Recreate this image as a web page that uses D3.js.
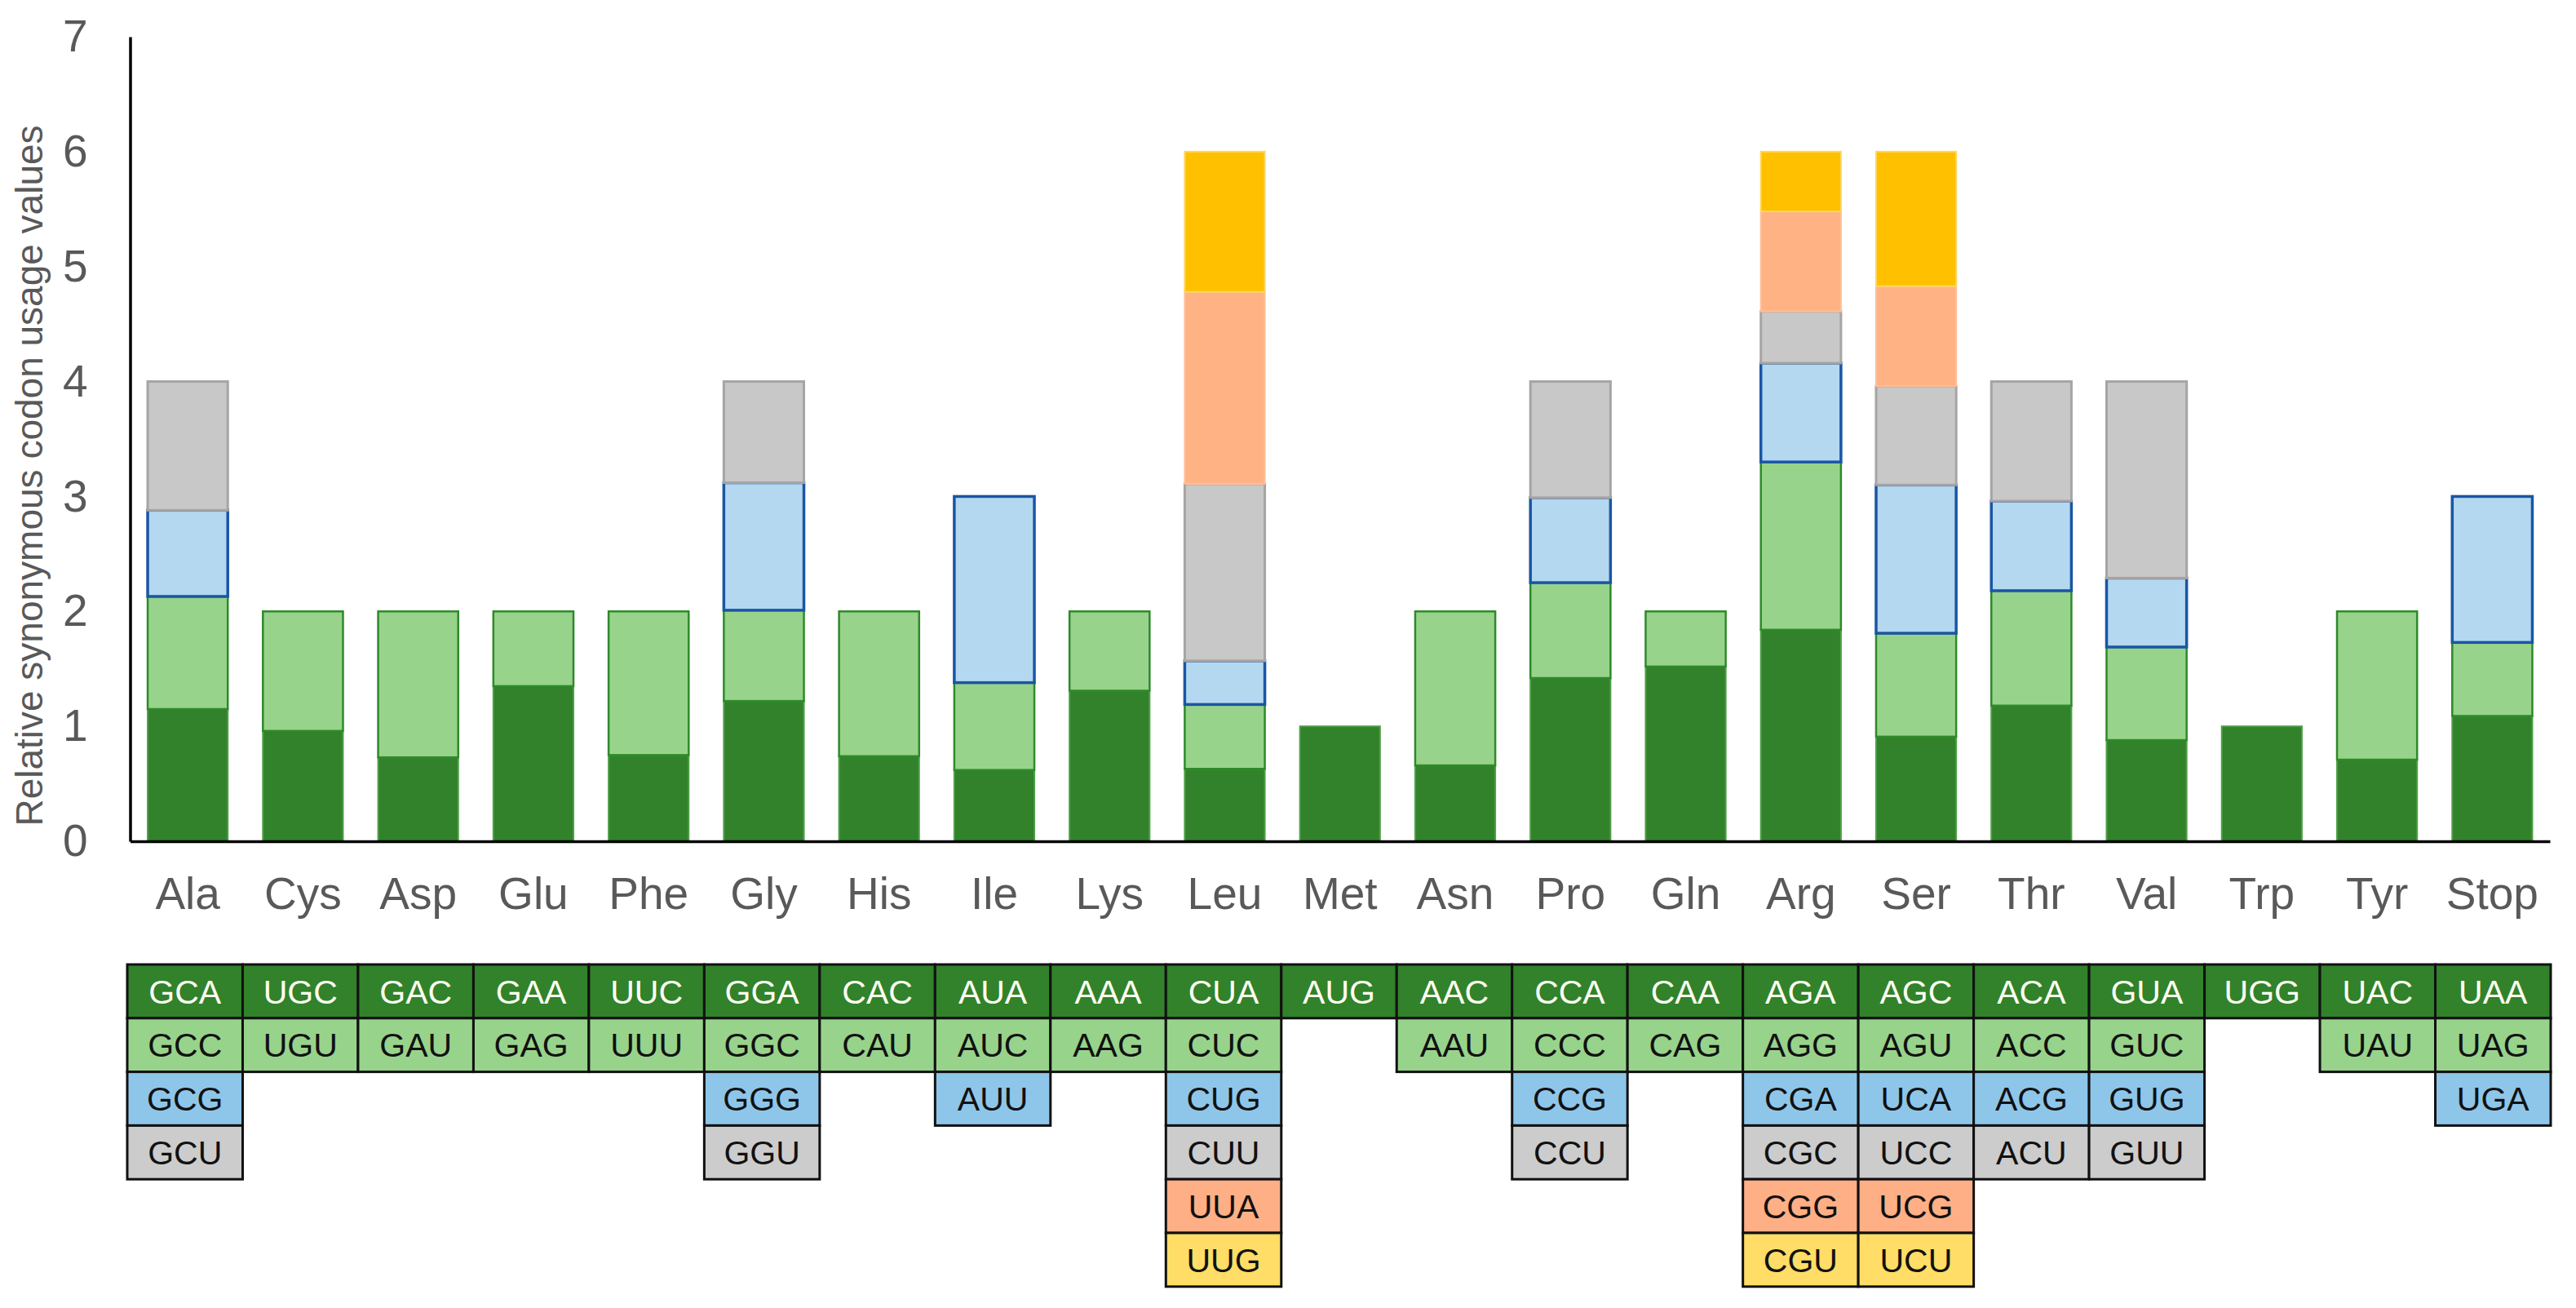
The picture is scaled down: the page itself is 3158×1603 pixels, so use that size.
<!DOCTYPE html>
<html>
<head>
<meta charset="utf-8">
<script src="https://cdn.jsdelivr.net/npm/d3@7/dist/d3.min.js"></script>
<style>
  html, body { margin: 0; padding: 0; background: #ffffff; }
  svg { display: block; font-family: "Liberation Sans", Arial, sans-serif; }
</style>
</head>
<body>
<svg id="chart" width="3158" height="1603"></svg>
<script>
// ---- data ----
const aminoAcids = ["Ala","Cys","Asp","Glu","Phe","Gly","His","Ile","Lys","Leu","Met","Asn","Pro","Gln","Arg","Ser","Thr","Val","Trp","Tyr","Stop"];

const codons = [
  ["GCA","GCC","GCG","GCU"],
  ["UGC","UGU"],
  ["GAC","GAU"],
  ["GAA","GAG"],
  ["UUC","UUU"],
  ["GGA","GGC","GGG","GGU"],
  ["CAC","CAU"],
  ["AUA","AUC","AUU"],
  ["AAA","AAG"],
  ["CUA","CUC","CUG","CUU","UUA","UUG"],
  ["AUG"],
  ["AAC","AAU"],
  ["CCA","CCC","CCG","CCU"],
  ["CAA","CAG"],
  ["AGA","AGG","CGA","CGC","CGG","CGU"],
  ["AGC","AGU","UCA","UCC","UCG","UCU"],
  ["ACA","ACC","ACG","ACU"],
  ["GUA","GUC","GUG","GUU"],
  ["UGG"],
  ["UAC","UAU"],
  ["UAA","UAG","UGA"]
];

const rscu = [
  [1.15, 0.98, 0.75, 1.12],
  [0.96, 1.04],
  [0.73, 1.27],
  [1.35, 0.65],
  [0.75, 1.25],
  [1.22, 0.79, 1.11, 0.88],
  [0.74, 1.26],
  [0.62, 0.76, 1.62],
  [1.31, 0.69],
  [0.63, 0.56, 0.38, 1.54, 1.67, 1.22],
  [1.00],
  [0.66, 1.34],
  [1.42, 0.83, 0.74, 1.01],
  [1.52, 0.48],
  [1.84, 1.46, 0.86, 0.45, 0.87, 0.52],
  [0.91, 0.90, 1.29, 0.86, 0.87, 1.17],
  [1.18, 1.00, 0.78, 1.04],
  [0.88, 0.81, 0.60, 1.71],
  [1.00],
  [0.71, 1.29],
  [1.09, 0.64, 1.27]
];

const yTicks = [0, 1, 2, 3, 4, 5, 6, 7];
const yTitle = "Relative synonymous codon usage values";

// ---- styles (by codon position) ----
const barFill   = ["#31822a", "#98d38b", "#b4d8f0", "#c8c8c8", "#ffb385", "#ffc000"];
const barStroke = ["#4f9f48", "#2e8a2a", "#1a56a4", "#a7a4a4", "#ffbf98", "#ffd75e"];
const barStrokeW = [2, 2.5, 3.5, 3, 2, 2];
const cellFill  = ["#31822a", "#98d38b", "#8ec6ea", "#cccccc", "#ffaf85", "#ffdd66"];
const cellText  = ["#fffff2", "#111111", "#111111", "#111111", "#111111", "#111111"];

const svg = d3.select("#chart");

const x = d3.scaleBand().domain(aminoAcids).range([159.5, 3126]).paddingInner(0.305).paddingOuter(0.1525);
const y = d3.scaleLinear().domain([0, 7]).range([1031, 45]);

// ---- bars ----
const segs = [];
aminoAcids.forEach((aa, i) => {
  const cum = d3.cumsum(rscu[i]);
  rscu[i].forEach((v, j) => {
    segs.push({aa, j, y0: cum[j] - v, y1: cum[j]});
  });
});

svg.append("g").selectAll("rect").data(segs).join("rect")
  .attr("x", d => x(d.aa))
  .attr("width", x.bandwidth())
  .attr("y", d => y(d.y1))
  .attr("height", d => y(d.y0) - y(d.y1))
  .attr("fill", d => barFill[d.j])
  .attr("stroke", d => barStroke[d.j])
  .attr("stroke-width", d => barStrokeW[d.j]);

// ---- axes ----
const yAxis = svg.append("g").attr("transform", `translate(${x.range()[0]},0)`)
  .call(d3.axisLeft(y).tickValues(yTicks).tickFormat(d3.format("d")).tickSize(0).tickPadding(52));
yAxis.select(".domain").attr("stroke", "#000").attr("stroke-width", 3.5);
yAxis.selectAll("text").attr("font-size", 55).attr("fill", "#595959")
  .attr("font-family", "Liberation Sans, Arial, sans-serif");

const xAxis = svg.append("g").attr("transform", `translate(0,${y(0)})`)
  .call(d3.axisBottom(x).tickSize(0).tickPadding(44));
xAxis.select(".domain").attr("stroke", "#000").attr("stroke-width", 3.5);
xAxis.selectAll("text").attr("font-size", 55).attr("fill", "#595959")
  .attr("font-family", "Liberation Sans, Arial, sans-serif");

svg.append("text")
  .attr("transform", `translate(52,${(y(0) + y(7)) / 2 + 45}) rotate(-90)`)
  .attr("text-anchor", "middle")
  .attr("font-size", 46)
  .attr("fill", "#595959")
  .text(yTitle);

// ---- codon table ----
const tx = d3.scaleBand().domain(aminoAcids).range([156, 3127]);
const ty = d3.scaleBand().domain(d3.range(6)).range([1182, 1182 + 6 * 65.8]);

const cells = [];
aminoAcids.forEach((aa, i) => codons[i].forEach((c, j) => cells.push({aa, j, c})));

const cg = svg.append("g");
cg.selectAll("rect").data(cells).join("rect")
  .attr("x", d => tx(d.aa))
  .attr("y", d => ty(d.j))
  .attr("width", tx.bandwidth())
  .attr("height", ty.bandwidth())
  .attr("fill", d => cellFill[d.j])
  .attr("stroke", "#111")
  .attr("stroke-width", 3);
cg.selectAll("text").data(cells).join("text")
  .attr("x", d => tx(d.aa) + tx.bandwidth() / 2)
  .attr("y", d => ty(d.j) + ty.bandwidth() / 2)
  .attr("dy", "0.36em")
  .attr("text-anchor", "middle")
  .attr("font-size", 41)
  .attr("fill", d => cellText[d.j])
  .text(d => d.c);
</script>
</body>
</html>
